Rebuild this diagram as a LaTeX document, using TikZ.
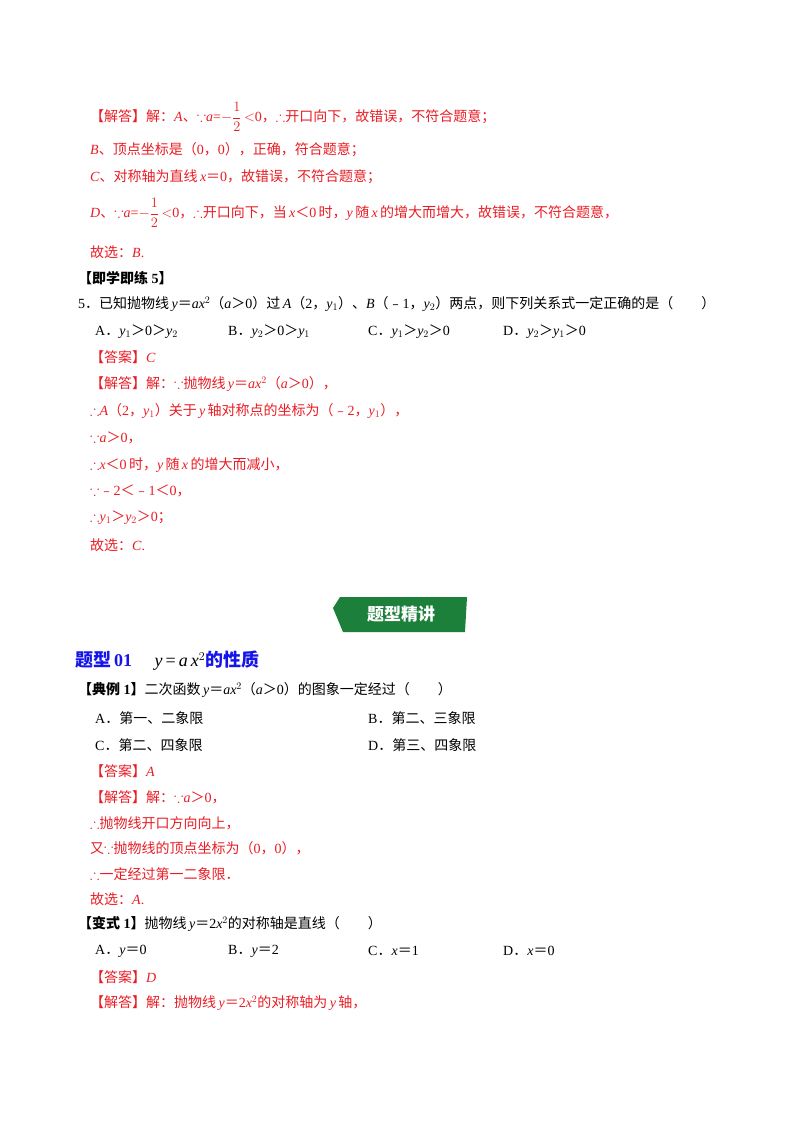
\documentclass[tikz,border=0pt]{standalone}
\usepackage{amsmath,amssymb}
\usepackage{fontspec}
\setmainfont{Liberation Serif}
\newfontfamily\cjk{Noto Sans CJK SC}
\newcommand\C[1]{{\cjk #1}}
\newcommand\I[1]{\textit{#1}}
\newcommand\gt{\C{＞}}
\newcommand\lt{\C{＜}}
\newcommand\eq{\C{＝}}
\newcommand\bc{$\because$}
\newcommand\tf{$\therefore$}
\definecolor{ans}{RGB}{232,28,36}
\definecolor{hb}{RGB}{20,20,235}
\definecolor{bann}{RGB}{28,128,58}
\begin{document}
\begin{tikzpicture}[x=1pt,y=1pt,
  t/.style={anchor=west,inner sep=0pt,font=\fontsize{14}{16}\selectfont},
  r/.style={t,text=ans}]
\useasboundingbox (0,0) rectangle (800,-1132);
\node[r] (a1) at (90,-117) {\C{【解答】解：}\I{A}\C{、}\bc\I{a}=$-\dfrac{1}{2}$\,$<$0\C{，}\tf\C{开口向下，故错误，不符合题意；}};
\node[r] (a2) at (90,-150) {\I{B}\C{、顶点坐标是（}0\C{，}0\C{），正确，符合题意；}};
\node[r] (a3) at (90,-177) {\I{C}\C{、对称轴为直线}\,\I{x}\eq0\C{，故错误，不符合题意；}};
\node[r] (a4) at (90,-213) {\I{D}\C{、}\bc\I{a}=$-\dfrac{1}{2}$\,$<$0\C{，}\tf\C{开口向下，当}\,\I{x}\lt0\,\C{时，}\I{y}\,\C{随}\,\I{x}\,\C{的增大而增大，故错误，不符合题意，}};
\node[r] (a5) at (90,-252) {\C{故选：}\I{B}.};
\node[t] (h5) at (78,-278) {\C{\bfseries 【即学即练}\textbf{ 5}\C{\bfseries 】}};
\node[t] (q5) at (78,-304) {5\C{．已知抛物线}\,\I{y}\eq\I{ax}$^2$\C{（}\I{a}\gt0\C{）过}\,\I{A}\C{（}2\C{，}\I{y}$_1$\C{）、}\I{B}\C{（﹣}1\C{，}\I{y}$_2$\C{）两点，则下列关系式一定正确的是（\qquad）}};
\node[t] (o1) at (95,-332) {A\C{．}\I{y}$_1$\gt0\gt\I{y}$_2$};
\node[t] (o2) at (228,-332) {B\C{．}\I{y}$_2$\gt0\gt\I{y}$_1$};
\node[t] (o3) at (368,-332) {C\C{．}\I{y}$_1$\gt\I{y}$_2$\gt0};
\node[t] (o4) at (503,-332) {D\C{．}\I{y}$_2$\gt\I{y}$_1$\gt0};
\node[r] (b1) at (90,-357) {\C{【答案】}\I{C}};
\node[r] (b2) at (90,-384) {\C{【解答】解：}\bc\C{抛物线}\,\I{y}\eq\I{ax}$^2$\C{（}\I{a}\gt0\C{），}};
\node[r] (b3) at (90,-411) {\tf\I{A}\C{（}2\C{，}\I{y}$_1$\C{）关于}\,\I{y}\,\C{轴对称点的坐标为（﹣}2\C{，}\I{y}$_1$\C{），}};
\node[r] (b4) at (90,-438) {\bc\I{a}\gt0\C{，}};
\node[r] (b5) at (90,-465) {\tf\I{x}\lt0\,\C{时，}\I{y}\,\C{随}\,\I{x}\,\C{的增大而减小，}};
\node[r] (b6) at (90,-491) {\bc\C{﹣}2\lt\C{﹣}1\lt0\C{，}};
\node[r] (b7) at (90,-518) {\tf\I{y}$_1$\gt\I{y}$_2$\gt0\C{；}};
\node[r] (b8) at (90,-545) {\C{故选：}\I{C}.};
\fill[bann] (340,-597) -- (467,-597) -- (465,-632) -- (343,-632) -- (333,-608) -- cycle;
\node[inner sep=0pt,text=white,font=\fontsize{17}{19}\selectfont] (bt) at (401,-614) {\C{\bfseries 题型精讲}};
\node[t,text=hb,font=\fontsize{18}{20}\selectfont\bfseries] (hd) at (75,-661) {\C{题型}\,01\quad\ {\color{black}\mdseries\I{y}\,=\,\I{a}\,\I{x}$^2$}\C{的性质}};
\node[t] (e1) at (78,-690) {\C{\bfseries 【典例}\textbf{ 1}\C{\bfseries 】}\C{二次函数}\,\I{y}\eq\I{ax}$^2$\C{（}\I{a}\gt0\C{）的图象一定经过（\qquad）}};
\node[t] (p1) at (95,-718) {A\C{．第一、二象限}};
\node[t] (p2) at (368,-718) {B\C{．第二、三象限}};
\node[t] (p3) at (95,-745) {C\C{．第二、四象限}};
\node[t] (p4) at (368,-745) {D\C{．第三、四象限}};
\node[r] (c1) at (90,-771) {\C{【答案】}\I{A}};
\node[r] (c2) at (90,-797) {\C{【解答】解：}\bc\I{a}\gt0\C{，}};
\node[r] (c3) at (90,-823) {\tf\C{抛物线开口方向向上，}};
\node[r] (c4) at (90,-848) {\C{又}\bc\C{抛物线的顶点坐标为（}0\C{，}0\C{），}};
\node[r] (c5) at (90,-874) {\tf\C{一定经过第一二象限．}};
\node[r] (c6) at (90,-899) {\C{故选：}\I{A}.};
\node[t] (f1) at (78,-924) {\C{\bfseries 【变式}\textbf{ 1}\C{\bfseries 】}\C{抛物线}\,\I{y}\eq2\I{x}$^2$\C{的对称轴是直线（\qquad）}};
\node[t] (g1) at (95,-951) {A\C{．}\I{y}\eq0};
\node[t] (g2) at (228,-951) {B\C{．}\I{y}\eq2};
\node[t] (g3) at (368,-951) {C\C{．}\I{x}\eq1};
\node[t] (g4) at (503,-951) {D\C{．}\I{x}\eq0};
\node[r] (d1) at (90,-977) {\C{【答案】}\I{D}};
\node[r] (d2) at (90,-1003) {\C{【解答】解：抛物线}\,\I{y}\eq2\I{x}$^2$\C{的对称轴为}\,\I{y}\,\C{轴，}};
\end{tikzpicture}
\end{document}
